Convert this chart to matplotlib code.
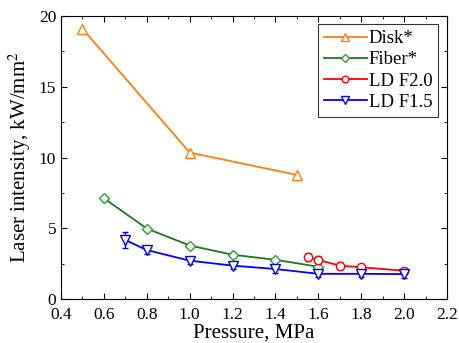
import matplotlib
matplotlib.use("Agg")
import matplotlib.pyplot as plt
import matplotlib.transforms as mtransforms
from matplotlib.ticker import MultipleLocator

plt.rcParams['font.family'] = ['Liberation Serif']
plt.rcParams['mathtext.fontset'] = 'stix'

disk_x = [0.5, 1.0, 1.5]
disk_y = [19.1, 10.35, 8.77]
fiber_x = [0.6, 0.8, 1.0, 1.2, 1.4, 1.6]
fiber_y = [7.12, 4.98, 3.78, 3.13, 2.77, 2.28]
ld20_x = [1.55, 1.6, 1.7, 1.8, 2.0]
ld20_y = [2.97, 2.76, 2.36, 2.24, 2.0]
ld20_err = [0.3, 0.3, 0.25, 0.2, 0.2]
ld15_x = [0.7, 0.8, 1.0, 1.2, 1.4, 1.6, 1.8, 2.0]
ld15_y = [4.17, 3.46, 2.71, 2.36, 2.12, 1.78, 1.78, 1.76]
ld15_err = [0.55, 0.25, 0.25, 0.25, 0.25, 0.25, 0.25, 0.25]

fig = plt.figure(figsize=(4.59, 3.43), dpi=100)
ax = fig.add_axes([61/459, 1-299/343, 386/459, 283/343])

ms = 6
ax.plot(disk_x, disk_y, color='#ff7f0e', marker='^', mfc='white', mec='#ff7f0e', ms=ms+1, lw=1.3, label='Disk*')
ax.plot(fiber_x, fiber_y, color='#1a7a1a', marker='D', mfc='white', mec='#2ca02c', ms=ms-0.5, lw=1.3, label='Fiber*')
ax.errorbar(ld20_x, ld20_y, yerr=ld20_err, color='red', ls='none', capsize=2, lw=1.0)
ax.plot(ld20_x, ld20_y, color='red', marker='o', mfc='white', mec='red', ms=ms, lw=1.3, label='LD F2.0')
ax.errorbar(ld15_x, ld15_y, yerr=ld15_err, color='blue', ls='none', capsize=2, lw=1.0)
ax.plot(ld15_x, ld15_y, color='blue', marker='v', mfc='white', mec='blue', ms=ms+1, lw=1.3, label='LD F1.5')

ax.set_xlim(0.4, 2.2)
ax.set_ylim(0, 20)
ax.xaxis.set_major_locator(MultipleLocator(0.2))
ax.xaxis.set_minor_locator(MultipleLocator(0.1))
ax.yaxis.set_major_locator(MultipleLocator(5))
ax.yaxis.set_minor_locator(MultipleLocator(2.5))
ax.tick_params(which='both', direction='in', top=True, right=True, labelsize=12.5)
ax.tick_params(which='major', length=4)
ax.tick_params(which='minor', length=2.5)
ax.tick_params(axis='x', pad=6)
ax.set_xticklabels([f'{v:.1f}' for v in ax.get_xticks()])
ax.set_xlabel('Pressure, MPa', fontsize=15, labelpad=0)
ax.set_ylabel('Laser intensity, kW/mm$^2$', fontsize=15, labelpad=4)

# nudge the y "0" label slightly up, as in the reference
off = mtransforms.ScaledTranslation(0, 2/72, fig.dpi_scale_trans)
ylabels = ax.get_yticklabels()
ylabels[0].set_transform(ylabels[0].get_transform() + off)

leg = ax.legend(loc='upper right', bbox_to_anchor=(0.977, 0.97), fontsize=13.5, fancybox=False,
                edgecolor='black', handlelength=2.3, borderpad=0.3, labelspacing=0.22,
                handletextpad=0.1, borderaxespad=0, markerscale=0.8)
leg.get_frame().set_linewidth(0.8)

fig.savefig('out.png', dpi=100)
